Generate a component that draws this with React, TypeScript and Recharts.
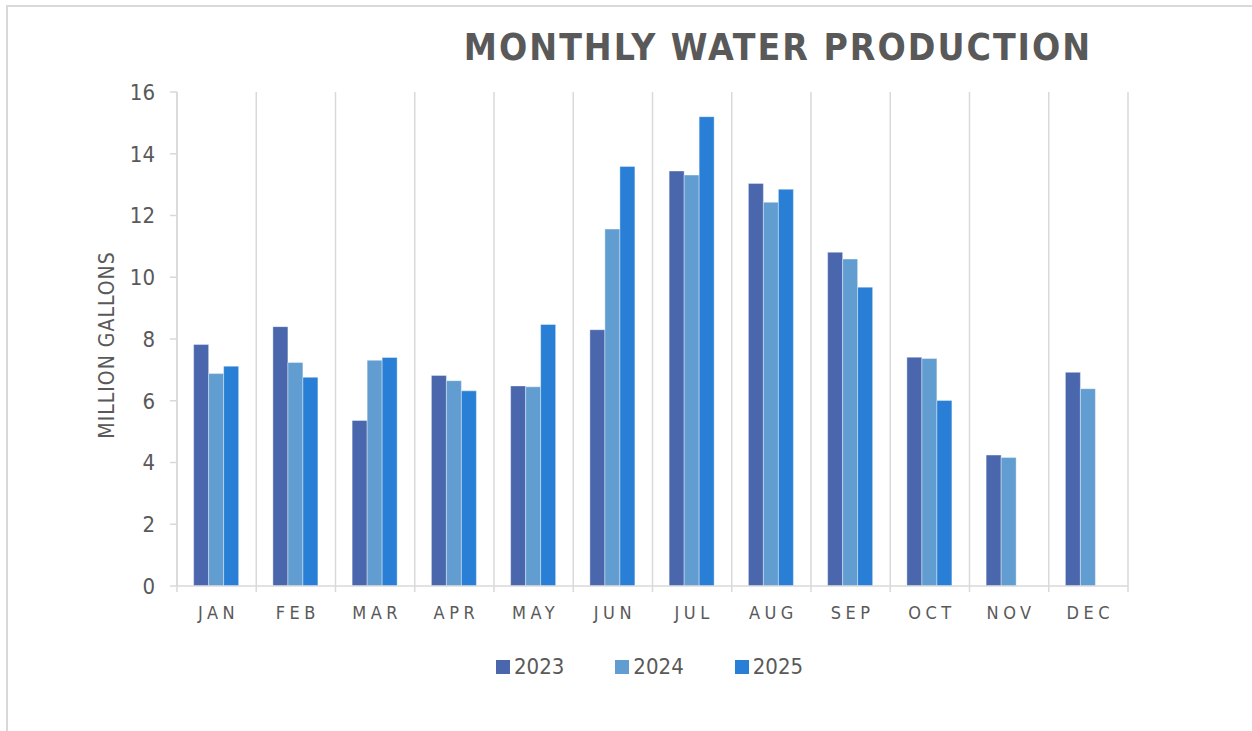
// MonthlyWaterProduction — clustered columns, 2023/2024/2025, million gallons per month.

import { BarChart, Bar, XAxis, YAxis, CartesianGrid, Legend } from 'recharts'

const months = ['JAN', 'FEB', 'MAR', 'APR', 'MAY', 'JUN', 'JUL', 'AUG', 'SEP', 'OCT', 'NOV', 'DEC']
const y2023 = [7.82, 8.4, 5.36, 6.82, 6.48, 8.3, 13.44, 13.04, 10.81, 7.41, 4.24, 6.92]
const y2024 = [6.88, 7.24, 7.31, 6.65, 6.45, 11.56, 13.31, 12.43, 10.59, 7.37, 4.16, 6.39]
const y2025 = [7.12, 6.76, 7.4, 6.32, 8.47, 13.59, 15.2, 12.85, 9.68, 6.01, null, null]
const yTicks = [0, 2, 4, 6, 8, 10, 12, 14, 16]

const series = [
  { key: '2023', values: y2023, color: '#4a66ac' },
  { key: '2024', values: y2024, color: '#629dd1' },
  { key: '2025', values: y2025, color: '#297fd5' },
]

const data = months.map((month, i) => {
  const row: Record<string, string | number | null> = { month }
  series.forEach((s) => {
    row[s.key] = s.values[i]
  })
  return row
})

const GREY = '#595959'
const LINE = '#d9d9d9'
const NARROW = "'Liberation Sans Narrow', 'DejaVu Sans Condensed', sans-serif"

// vertical grid lines sit on the category boundaries, not the centres
const boundaryLines = ({ offset }: any) =>
  Array.from({ length: months.length + 1 }, (_, i) => offset.left + (i * offset.width) / months.length)

// month label plus the small boundary tick below the axis
function MonthTick({ x, y, payload, index }: any) {
  const half = payload.offset || 0
  const axisY = y - 20
  return (
    <g>
      <line x1={x - half} x2={x - half} y1={axisY} y2={axisY + 6} stroke={LINE} strokeWidth={1.5} />
      {index === months.length - 1 && (
        <line x1={x + half} x2={x + half} y1={axisY} y2={axisY + 6} stroke={LINE} strokeWidth={1.5} />
      )}
      <text
        x={x + 2}
        y={y}
        dy="0.71em"
        textAnchor="middle"
        fill={GREY}
        fontSize={18}
        fontFamily={NARROW}
        letterSpacing={4.5}
      >
        {payload.value}
      </text>
    </g>
  )
}

function LegendContent({ payload }: any) {
  return (
    <div style={{ display: 'flex', gap: 51, height: 24, alignItems: 'center' }}>
      {(payload || []).map((p: any) => (
        <div key={p.value} style={{ display: 'flex', alignItems: 'center' }}>
          <span style={{ width: 14, height: 14, background: p.color, marginRight: 4, display: 'inline-block' }} />
          <span style={{ fontFamily: NARROW, fontSize: 22, color: GREY, lineHeight: '24px' }}>{p.value}</span>
        </div>
      ))}
    </div>
  )
}

export default function App() {
  return (
    <div style={{ position: 'relative', width: 1252, height: 731, overflow: 'hidden', background: '#fff' }}>
      <style>{'body{margin:0}'}</style>
      <div
        style={{
          position: 'absolute',
          left: 6,
          top: 5,
          right: -10,
          bottom: -10,
          borderLeft: `2px solid ${LINE}`,
          borderTop: `2px solid ${LINE}`,
        }}
      />
      <div
        style={{
          position: 'absolute',
          left: 378,
          width: 800,
          top: 28,
          textAlign: 'center',
          fontFamily: NARROW,
          fontWeight: 700,
          fontSize: 37,
          lineHeight: '40px',
          letterSpacing: 2,
          color: GREY,
          whiteSpace: 'nowrap',
        }}
      >
        MONTHLY WATER PRODUCTION
      </div>
      <div
        style={{
          position: 'absolute',
          left: 107,
          top: 345,
          transform: 'translate(-50%, -50%) rotate(-90deg)',
          fontFamily: NARROW,
          fontSize: 21,
          letterSpacing: 1,
          color: GREY,
          whiteSpace: 'nowrap',
        }}
      >
        MILLION GALLONS
      </div>
      <div style={{ position: 'absolute', left: 0, top: 0 }}>
        <BarChart
          width={1252}
          height={731}
          data={data}
          margin={{ top: 92, right: 124, left: 0, bottom: 52 }}
          barCategoryGap="21%"
          barGap={0}
        >
          <CartesianGrid
            vertical
            horizontal={false}
            verticalCoordinatesGenerator={boundaryLines}
            stroke={LINE}
            strokeWidth={1.5}
          />
          <XAxis
            dataKey="month"
            tickLine={false}
            axisLine={{ stroke: LINE, strokeWidth: 1.5 }}
            tickSize={6}
            tickMargin={14}
            height={69}
            interval={0}
            tick={<MonthTick />}
          />
          <YAxis
            domain={[0, 16]}
            ticks={yTicks}
            width={177}
            tickSize={7}
            tickMargin={15}
            tickLine={{ stroke: LINE, strokeWidth: 1.5 }}
            axisLine={{ stroke: LINE, strokeWidth: 1.5 }}
            tick={{ fill: GREY, fontSize: 22, fontFamily: NARROW }}
          />
          <Legend
            verticalAlign="bottom"
            content={<LegendContent />}
            wrapperStyle={{ left: 496, width: 'auto' }}
          />
          {series.map((s) => (
            <Bar
              key={s.key}
              dataKey={s.key}
              name={s.key}
              fill={s.color}
              stroke="#ffffff"
              strokeOpacity={0.5}
              strokeWidth={0.75}
              isAnimationActive={false}
            />
          ))}
        </BarChart>
      </div>
    </div>
  )
}
